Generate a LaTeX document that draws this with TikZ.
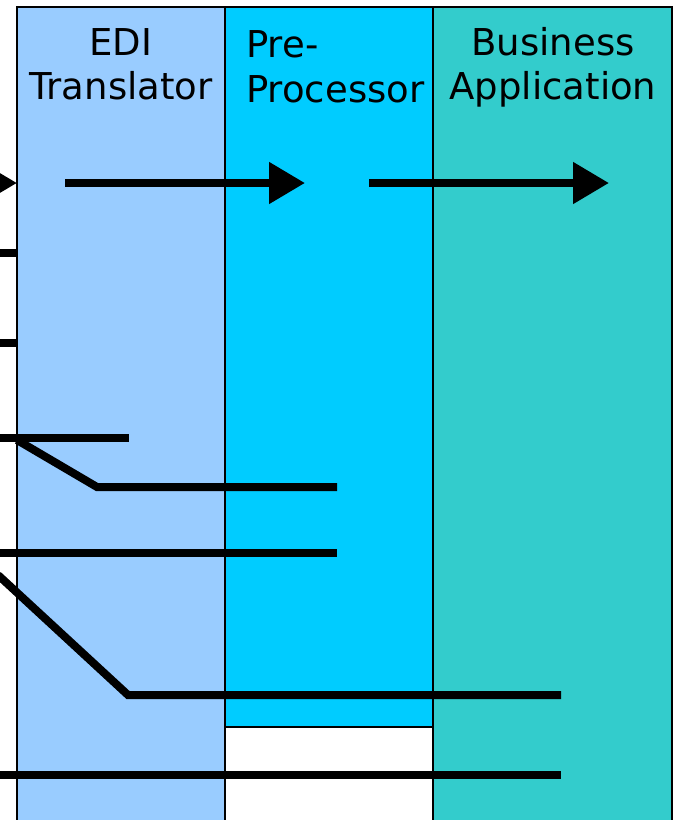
\documentclass[tikz,border=0pt]{standalone}
\usepackage{fontspec}
\setmainfont{DejaVu Sans}
\usetikzlibrary{arrows.meta}
\definecolor{edi}{HTML}{99CCFF}
\definecolor{pre}{HTML}{00CCFF}
\definecolor{biz}{HTML}{33CCCC}
\begin{document}
\begin{tikzpicture}[x=1pt,y=-1pt,
  wire/.style={line width=8pt},
  flow/.style={line width=8pt,-{Triangle[length=36pt,width=40pt]}},
  lane/.style={draw=black,line width=2pt},
  title/.style={font=\fontsize{37}{44}\selectfont, inner sep=0pt, anchor=base}]
\useasboundingbox (0,0) rectangle (673,820);
\clip (0,0) rectangle (673,820);
\fill[white] (0,0) rectangle (673,820);
% lanes
\draw[lane,fill=edi] (17,7) rectangle (225,830);
\draw[lane,fill=pre] (225,7) rectangle (433,727);
\draw[lane,fill=white] (225,727) rectangle (433,830);
\draw[lane,fill=biz] (433,7) rectangle (672,830);
% titles
\node[title] (edi1) at (121,55) {EDI};
\node[title] (edi2) at (121,99) {Translator};
\node[title,anchor=base west] (pre1) at (246,57) {Pre-};
\node[title,anchor=base west] (pre2) at (246,102) {Processor};
\node[title] (biz1) at (553,55) {Business};
\node[title] (biz2) at (553,99) {Application};
% coordinates
\coordinate (a0) at (-60,183); \coordinate (a1) at (17,183);
\coordinate (b0) at (65,183);  \coordinate (b1) at (305,183);
\coordinate (c0) at (369,183); \coordinate (c1) at (609,183);
\coordinate (d0) at (-5,253);  \coordinate (d1) at (17,253);
\coordinate (e0) at (-5,343);  \coordinate (e1) at (17,343);
\coordinate (f0) at (-5,438);  \coordinate (f1) at (129,438);
\coordinate (g0) at (17,440);  \coordinate (g1) at (97,487); \coordinate (g2) at (337,487);
\coordinate (h0) at (-5,553);  \coordinate (h1) at (337,553);
\coordinate (i0) at (-2,575);  \coordinate (i1) at (128,695); \coordinate (i2) at (561,695);
\coordinate (j0) at (-5,775);  \coordinate (j1) at (561,775);
% connectors
\draw[flow] (a0) -- (a1);
\draw[flow] (b0) -- (b1);
\draw[flow] (c0) -- (c1);
\draw[wire] (d0) -- (d1);
\draw[wire] (e0) -- (e1);
\draw[wire] (f0) -- (f1);
\draw[wire] (g0) -- (g1) -- (g2);
\draw[wire] (h0) -- (h1);
\draw[wire] (i0) -- (i1) -- (i2);
\draw[wire] (j0) -- (j1);
\end{tikzpicture}
\end{document}
